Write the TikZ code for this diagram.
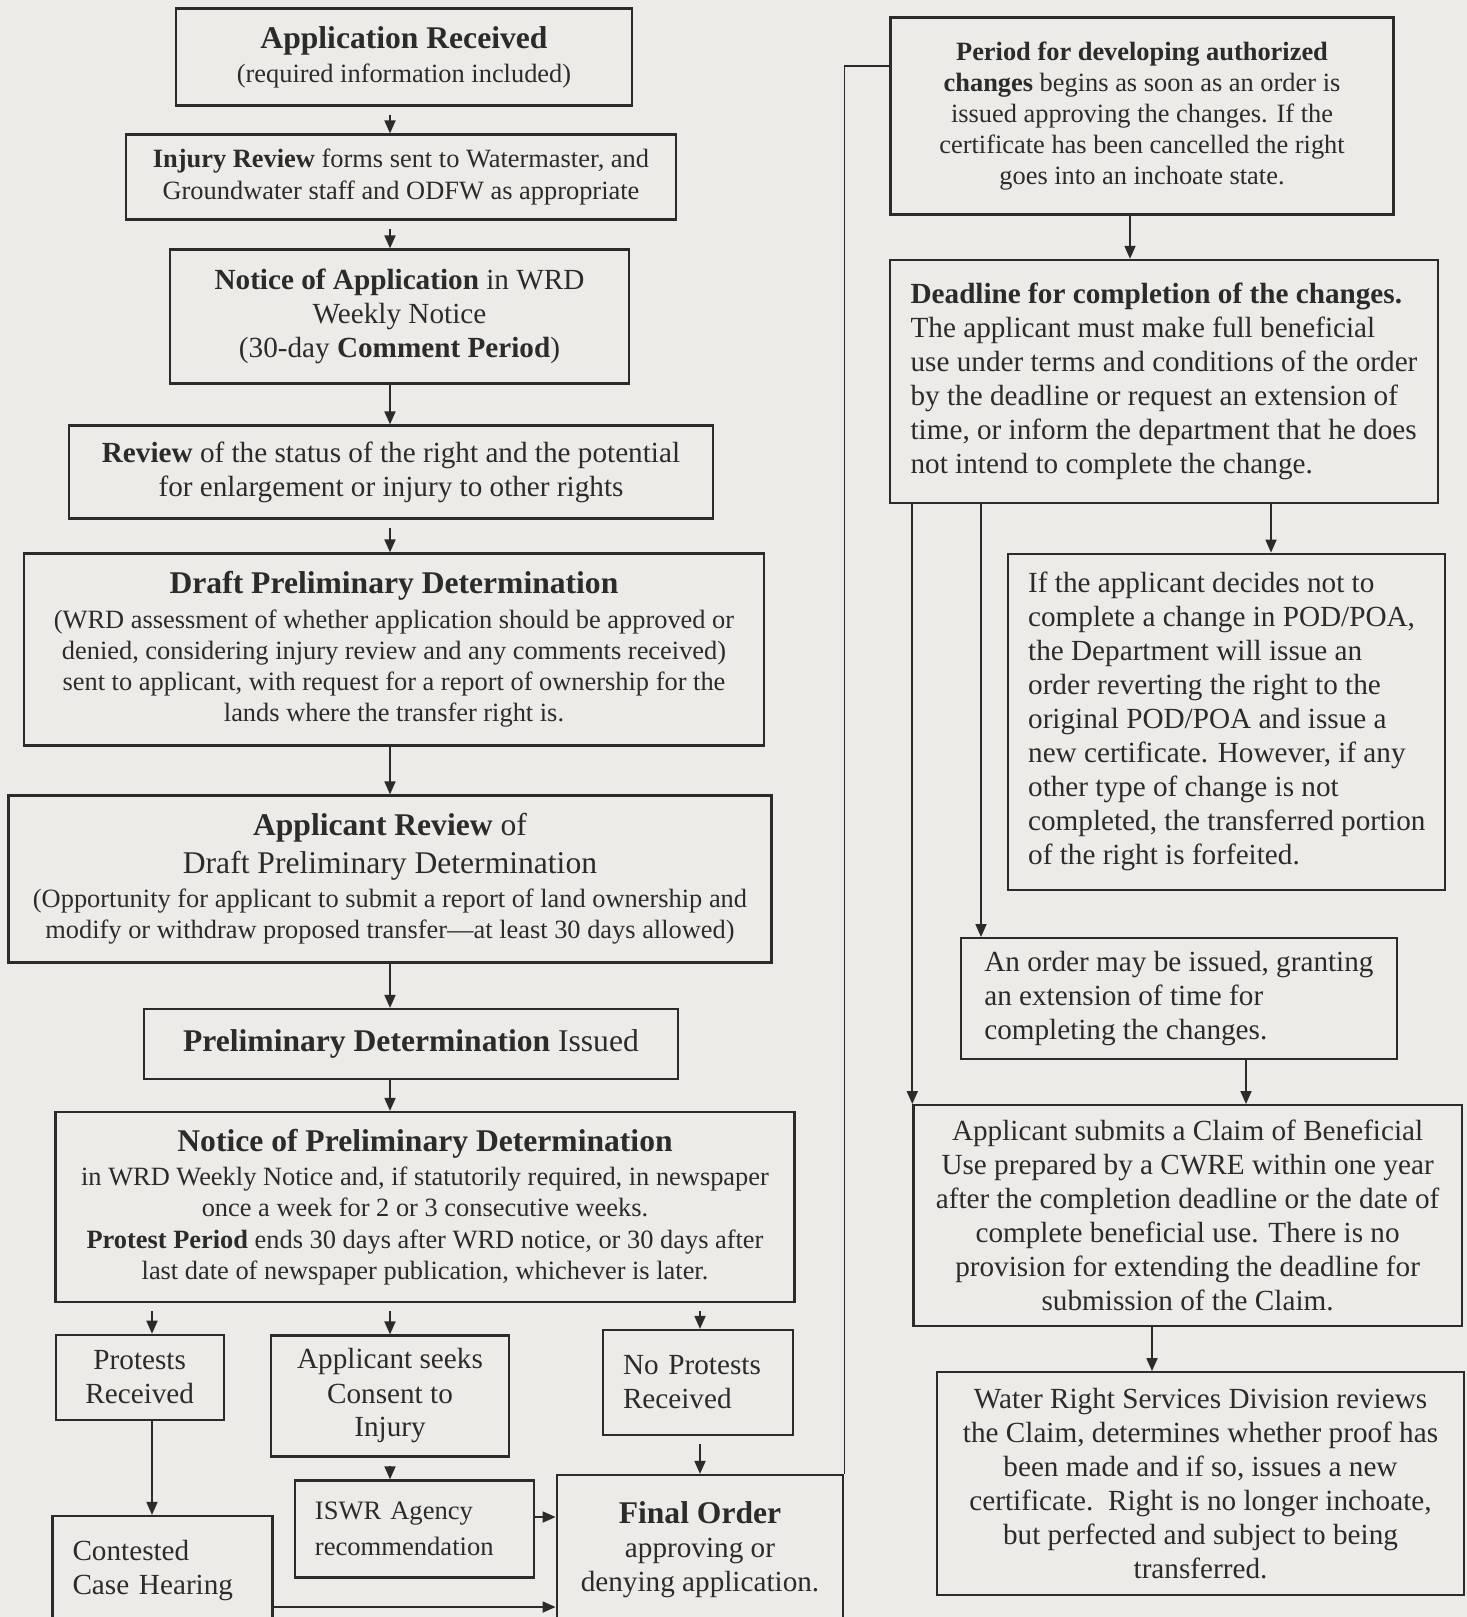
\documentclass[tikz,border=0pt]{standalone}
\usepackage{fontspec}
\setmainfont{Liberation Serif}
\usetikzlibrary{arrows.meta}
\definecolor{bg}{HTML}{ECEBE8}
\definecolor{ink}{HTML}{2B2B2B}
\newcommand\fA{\fontsize{13.2pt}{15.6pt}\selectfont}
\newcommand\fB{\fontsize{14.6pt}{17pt}\selectfont}
\newcommand\fH{\fontsize{15.8pt}{17pt}\selectfont}
\newcommand\fI{\fontsize{13.3pt}{18pt}\selectfont}
\tikzset{
  box/.style={draw=ink, line width=1.1pt, rectangle, inner sep=0pt, align=center, text=ink, font=\fA},
  lbox/.style={box, align=left},
  arr/.style={draw=ink, line width=0.9pt, -{Triangle[length=6.5pt,width=5.5pt]}},
  garr/.style={arr, shorten <=4pt},
  link/.style={draw=ink, line width=0.9pt},
}
\begin{document}
\begin{tikzpicture}[x=0.5pt,y=-0.5pt]
\fill[bg] (0,0) rectangle (1467,1617);
\clip (0,0) rectangle (1467,1617);

% ---------------- left column ----------------
\node[box, minimum width=228pt, minimum height=48.5pt] (apprec) at (404,57)
  {{\fH\bfseries Application Received}\\[1.5pt](required information included)};
\node[box, minimum width=275pt, minimum height=42.5pt] (injury) at (401,177)
  {\textbf{Injury Review} forms sent to Watermaster, and\\Groundwater staff and ODFW as appropriate};
\node[box, font=\fB, minimum width=229.5pt, minimum height=67pt] (noticeapp) at (399.5,316.5)
  {\textbf{Notice of Application} in WRD\\Weekly Notice\\(30-day \textbf{Comment Period})};
\node[box, font=\fB, minimum width=322pt, minimum height=46.5pt] (review) at (391,472)
  {\textbf{Review} of the status of the right and the potential\\for enlargement or injury to other rights};
\node[box, minimum width=370pt, minimum height=96pt] (draftpd) at (394,649.5)
  {{\fH\bfseries Draft Preliminary Determination}\\[1.5pt]
   (WRD assessment of whether application should be approved or\\
   denied, considering injury review and any comments received)\\
   sent to applicant, with request for a report of ownership for the\\
   lands where the transfer right is.};
\node[box, minimum width=381.5pt, minimum height=83.5pt] (apprev) at (390,879)
  {{\fH\textbf{Applicant Review} of}\\[3pt]
   {\fH Draft Preliminary Determination}\\[1.5pt]
   (Opportunity for applicant to submit a report of land ownership and\\
   modify or withdraw proposed transfer---at least 30 days allowed)};
\node[box, font=\fH, minimum width=267pt, minimum height=35pt] (pdiss) at (411,1044)
  {\textbf{Preliminary Determination} Issued};
\node[box, minimum width=369.5pt, minimum height=95pt] (noticepd) at (425,1207)
  {{\fH\bfseries Notice of Preliminary Determination}\\[1.5pt]
   in WRD Weekly Notice and, if statutorily required, in newspaper\\
   once a week for 2 or 3 consecutive weeks.\\
   \textbf{Protest Period} ends 30 days after WRD notice, or 30 days after\\
   last date of newspaper publication, whichever is later.};
\node[box, font=\fB, minimum width=84pt, minimum height=42.5pt] (protests) at (139.7,1377.3)
  {Protests\\Received};
\node[box, font=\fB, minimum width=119pt, minimum height=60.5pt] (seeks) at (390,1396)
  {Applicant seeks\\Consent to\\Injury};
\node[lbox, font=\fB, text width=75pt, minimum width=95pt, minimum height=52.5pt] (noprot) at (698,1382.5)
  {No Protests\\Received};
\node[lbox, font=\fI, text width=99.5pt, minimum width=119.5pt, minimum height=48.5pt] (iswr) at (414.4,1528.9)
  {ISWR Agency\\recommendation};
\node[lbox, font=\fB, text width=90pt, minimum width=110pt, minimum height=54.5pt] (contested) at (162.5,1570.5)
  {Contested\\Case Hearing};
\node[box, font=\fB, minimum width=143.3pt, minimum height=75pt] (final) at (700,1550)
  {{\fH\bfseries Final Order}\\approving or\\denying application.};

% ---------------- right column ----------------
\node[box, minimum width=251.5pt, minimum height=98.5pt] (period) at (1142,116)
  {\textbf{Period for developing authorized}\\
   \textbf{changes} begins as soon as an order is\\
   issued approving the changes. If the\\
   certificate has been cancelled the right\\
   goes into an inchoate state.};
\node[lbox, font=\fB, minimum width=274.2pt, minimum height=121.6pt] (deadline) at (1164,381.5)
  {\textbf{Deadline for completion of the changes.}\\
   The applicant must make full beneficial\\
   use under terms and conditions of the order\\
   by the deadline or request an extension of\\
   time, or inform the department that he does\\
   not intend to complete the change.};
\node[lbox, font=\fB, minimum width=218.5pt, minimum height=168pt] (ifapp) at (1226.8,721.7)
  {If the applicant decides not to\\
   complete a change in POD/POA,\\
   the Department will issue an\\
   order reverting the right to the\\
   original POD/POA and issue a\\
   new certificate. However, if any\\
   other type of change is not\\
   completed, the transferred portion\\
   of the right is forfeited.};
\node[lbox, font=\fB, minimum width=218pt, minimum height=60.3pt] (anorder) at (1178.9,998.4)
  {An order may be issued, granting\\
   an extension of time for\\
   completing the changes.};
\node[box, font=\fB, minimum width=274.2pt, minimum height=110.3pt] (submits) at (1187.6,1215.4)
  {Applicant submits a Claim of Beneficial\\
   Use prepared by a CWRE within one year\\
   after the completion deadline or the date of\\
   complete beneficial use. There is no\\
   provision for extending the deadline for\\
   submission of the Claim.};
\node[box, font=\fB, minimum width=263.4pt, minimum height=111.3pt] (wrsd) at (1200.5,1483.5)
  {Water Right Services Division reviews\\
   the Claim, determines whether proof has\\
   been made and if so, issues a new\\
   certificate.\ \ Right is no longer inchoate,\\
   but perfected and subject to being\\
   transferred.};

% ---------------- helper coordinates ----------------
\coordinate (xc) at (390,0);
\coordinate (xp) at (152,0);
\coordinate (xn) at (700,0);
\coordinate (yi) at (0,1517);
\coordinate (yc) at (0,1607);
\coordinate (yk) at (0,66);
\coordinate (xr1) at (1130,0);
\coordinate (xr2) at (1271,0);
\coordinate (xr3) at (981,0);
\coordinate (xr4) at (1246,0);
\coordinate (xr5) at (1152,0);

% ---------------- connectors, left ----------------
\draw[garr] (apprec.south -| xc) -- (injury.north -| xc);
\draw[garr] (injury.south -| xc) -- (noticeapp.north -| xc);
\draw[arr] (noticeapp.south -| xc) -- (review.north -| xc);
\draw[garr] (review.south -| xc) -- (draftpd.north -| xc);
\draw[arr] (draftpd.south -| xc) -- (apprev.north -| xc);
\draw[arr] (apprev.south -| xc) -- (pdiss.north -| xc);
\draw[arr] (pdiss.south -| xc) -- (noticepd.north -| xc);
\draw[garr] (noticepd.south -| xp) -- (protests.north -| xp);
\draw[garr] (noticepd.south -| xc) -- (seeks.north -| xc);
\draw[garr] (noticepd.south -| xn) -- (noprot.north -| xn);
\draw[arr] (protests.south -| xp) -- (contested.north -| xp);
\draw[garr] (seeks.south -| xc) -- (iswr.north -| xc);
\draw[garr] (noprot.south -| xn) -- (final.north -| xn);
\draw[arr] (iswr.east |- yi) -- (final.west |- yi);
\draw[arr] (contested.east |- yc) -- (final.west |- yc);
\draw[link] (final.north east) -- (final.north east |- yk) -- (period.west |- yk);

% ---------------- connectors, right ----------------
\draw[arr] (period.south -| xr1) -- (deadline.north -| xr1);
\draw[arr] (deadline.south -| xr2) -- (ifapp.north -| xr2);
\draw[arr] (deadline.south -| xr3) -- (anorder.north -| xr3);
\draw[arr] (deadline.south -| submits.west) -- (submits.north west);
\draw[arr] (anorder.south -| xr4) -- (submits.north -| xr4);
\draw[arr] (submits.south -| xr5) -- (wrsd.north -| xr5);
\end{tikzpicture}
\end{document}
